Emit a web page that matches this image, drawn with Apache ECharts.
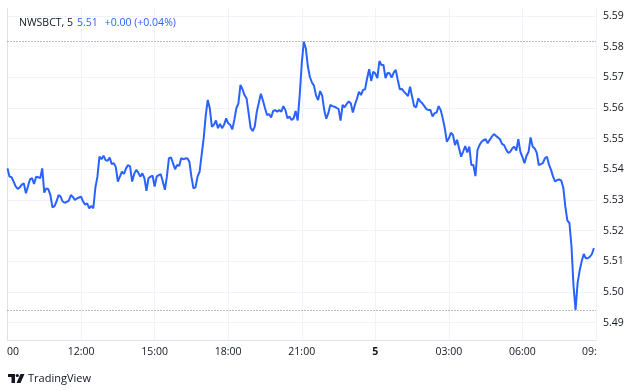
<!DOCTYPE html>
<html><head><meta charset="utf-8">
<script src="https://cdn.jsdelivr.net/npm/echarts@6/dist/echarts.min.js"></script>
<style>html,body{margin:0;padding:0;background:#fff}#c{width:640px;height:391px}</style>
</head><body><div id="c"></div>
<script>
// ---- data ----
const symbolText = 'NWSBCT, 5';
const lastText = '5.51';
const changeText = '+0.00 (+0.04%)';
const brandText = 'TradingView';
const startHour = 9;          // session starts 09:00
const stepMinutes = 5;        // 5-minute bars
const dayLabel = '5';         // label shown at midnight
const xTickMinutes = 180;     // 3h ticks
const yMin = 5.49, yMax = 5.59, yStep = 0.01;
const values = [
5.5403,5.5376,5.5374,5.5360,5.5344,5.5336,5.5341,5.5350,5.5354,5.5322,
5.5344,5.5367,5.5371,5.5352,5.5376,5.5374,5.5371,5.5403,5.5324,5.5338,
5.5335,5.5316,5.5276,5.5280,5.5295,5.5316,5.5311,5.5295,5.5291,5.5294,
5.5298,5.5316,5.5310,5.5300,5.5305,5.5308,5.5311,5.5295,5.5285,5.5289,
5.5273,5.5281,5.5273,5.5340,5.5376,5.5441,5.5433,5.5444,5.5430,5.5428,
5.5438,5.5417,5.5420,5.5407,5.5360,5.5376,5.5392,5.5385,5.5403,5.5414,
5.5409,5.5360,5.5385,5.5398,5.5389,5.5376,5.5387,5.5371,5.5330,5.5371,
5.5376,5.5379,5.5344,5.5376,5.5381,5.5384,5.5360,5.5333,5.5376,5.5436,
5.5439,5.5420,5.5400,5.5414,5.5411,5.5436,5.5433,5.5435,5.5436,5.5425,
5.5376,5.5338,5.5341,5.5376,5.5392,5.5447,5.5500,5.5575,5.5626,5.5599,
5.5539,5.5545,5.5559,5.5534,5.5548,5.5534,5.5545,5.5566,5.5550,5.5545,
5.5530,5.5561,5.5599,5.5615,5.5675,5.5661,5.5642,5.5631,5.5583,5.5534,
5.5525,5.5539,5.5588,5.5617,5.5646,5.5624,5.5600,5.5577,5.5580,5.5569,
5.5590,5.5593,5.5588,5.5593,5.5588,5.5606,5.5593,5.5566,5.5572,5.5561,
5.5566,5.5590,5.5559,5.5642,5.5745,5.5816,5.5794,5.5735,5.5700,5.5683,
5.5672,5.5640,5.5626,5.5655,5.5640,5.5593,5.5565,5.5583,5.5610,5.5606,
5.5604,5.5600,5.5597,5.5559,5.5610,5.5602,5.5613,5.5621,5.5615,5.5585,
5.5610,5.5630,5.5653,5.5642,5.5659,5.5661,5.5697,5.5726,5.5688,5.5718,
5.5712,5.5697,5.5753,5.5740,5.5740,5.5697,5.5714,5.5713,5.5699,5.5715,
5.5724,5.5691,5.5661,5.5662,5.5653,5.5646,5.5639,5.5669,5.5637,5.5606,
5.5602,5.5631,5.5621,5.5615,5.5606,5.5596,5.5593,5.5593,5.5572,5.5583,
5.5585,5.5606,5.5593,5.5566,5.5534,5.5490,5.5501,5.5519,5.5512,5.5479,
5.5496,5.5468,5.5441,5.5458,5.5476,5.5455,5.5474,5.5414,5.5414,5.5378,
5.5463,5.5479,5.5490,5.5495,5.5498,5.5485,5.5496,5.5506,5.5515,5.5509,
5.5504,5.5498,5.5483,5.5479,5.5465,5.5454,5.5457,5.5468,5.5474,5.5461,
5.5498,5.5457,5.5440,5.5420,5.5444,5.5457,5.5504,5.5474,5.5468,5.5454,
5.5414,5.5417,5.5420,5.5436,5.5441,5.5415,5.5398,5.5376,5.5360,5.5365,
5.5367,5.5363,5.5340,5.5278,5.5233,5.5225,5.5150,5.5020,5.4942,5.5030,
5.5070,5.5100,5.5124,5.5110,5.5110,5.5115,5.5124,5.5143
];

// ---- chart ----
const F = '"Open Sans", sans-serif';
const TXT = '#131722', BLUE = '#2962ff', GRID = '#f0f3fa', BORDER = '#e0e3eb';
const spanMinutes = 24 * 60;
const seriesData = values.map((v, i) => [i * stepMinutes, v]);
const vMax = Math.max(...values), vMin = Math.min(...values);

function xLabel(m) {
  if (m === 0) return '{first|00}';
  const h = (startHour + m / 60) % 24;
  const s = (h < 10 ? '0' : '') + h + ':00';
  if (m === spanMinutes) return '{last|' + s.slice(0, 3) + '}';
  if (h === 0) return '{day|' + dayLabel + '}';
  return s;
}

const chart = echarts.init(document.getElementById('c'), null, {renderer: 'canvas'});
chart.setOption({
  animation: false,
  backgroundColor: '#ffffff',
  textStyle: {fontFamily: F},
  title: {
    left: 14, top: 13,
    text: '{a|' + symbolText + '}{b|' + lastText + '}{c|' + changeText + '}',
    textStyle: {
      fontWeight: 'normal',
      rich: {
        a: {color: TXT, fontSize: 10.5, fontFamily: F, fontWeight: 'normal'},
        b: {color: BLUE, fontSize: 10.5, fontFamily: F, fontWeight: 'normal', padding: [0, 0, 0, 4]},
        c: {color: BLUE, fontSize: 10.5, fontFamily: F, fontWeight: 'normal', padding: [0, 0, 0, 7]}
      }
    }
  },
  grid: [
    {left: 7.5, right: 44, top: 15.9, bottom: 68.3},
    {left: 7.5, right: 44, top: 8, bottom: 51}
  ],
  xAxis: [
    {gridIndex: 0, type: 'value', min: 0, max: spanMinutes, show: false},
    {
      gridIndex: 1, type: 'value', min: 0, max: spanMinutes, interval: xTickMinutes,
      axisLine: {show: true, lineStyle: {color: BORDER}},
      axisTick: {show: false},
      splitLine: {show: true, lineStyle: {color: GRID}},
      axisLabel: {
        color: TXT, fontSize: 10.5, fontFamily: F, margin: 7,
        formatter: xLabel,
        rich: {
          first: {color: TXT, fontSize: 10.5, fontFamily: F, padding: [0, 0, 0, 11]},
          last: {color: TXT, fontSize: 10.5, fontFamily: F, padding: [0, 13, 0, 0]},
          day: {color: TXT, fontSize: 10.5, fontFamily: F, fontWeight: 'bold'}
        }
      }
    }
  ],
  yAxis: [
    {
      gridIndex: 0, type: 'value', position: 'right', min: yMin, max: yMax, interval: yStep,
      axisLine: {show: false}, axisTick: {show: false},
      splitLine: {show: true, lineStyle: {color: GRID}},
      axisLabel: {color: TXT, fontSize: 10.5, fontFamily: F, margin: 7, formatter: v => v.toFixed(2)}
    },
    {
      gridIndex: 1, type: 'value', position: 'right', min: 0, max: 1,
      axisLine: {show: true, lineStyle: {color: BORDER}},
      axisTick: {show: false}, axisLabel: {show: false}, splitLine: {show: false}
    }
  ],
  series: [{
    type: 'line',
    xAxisIndex: 0, yAxisIndex: 0,
    data: seriesData,
    symbol: 'none',
    lineStyle: {color: BLUE, width: 2},
    itemStyle: {color: BLUE},
    markLine: {
      silent: true, symbol: 'none', label: {show: false}, precision: 4,
      lineStyle: {color: '#787b86', type: [1, 2], width: 1},
      data: [{yAxis: vMax}, {yAxis: vMin}]
    }
  }],
  graphic: [
    {type: 'rect', shape: {x: 8, y: 374, width: 7, height: 3}, style: {fill: TXT}},
    {type: 'rect', shape: {x: 11.5, y: 374, width: 3.5, height: 9}, style: {fill: TXT}},
    {type: 'circle', shape: {cx: 17.3, cy: 375.5, r: 1.6}, style: {fill: TXT}},
    {type: 'polygon', shape: {points: [[20.5, 374], [24.5, 374], [20.5, 383], [16.5, 383]]}, style: {fill: TXT}},
    {type: 'text', x: 28, y: 378.5, style: {text: brandText, fill: TXT, font: '11px ' + F, textVerticalAlign: 'middle'}}
  ]
});
</script>
</body></html>
